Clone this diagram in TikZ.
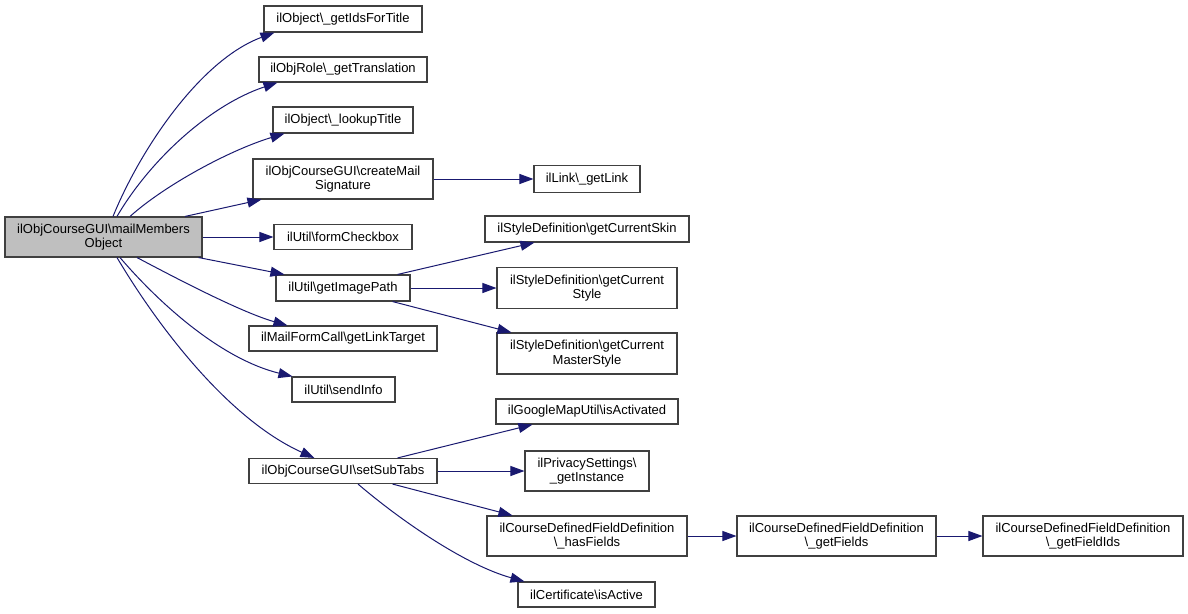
\documentclass[tikz,border=0pt]{standalone}
\usepackage{fontspec}
\setmainfont{Liberation Sans}
\usetikzlibrary{arrows.meta}
\definecolor{boxc}{HTML}{404040}
\definecolor{edgec}{HTML}{191970}
\definecolor{mainfill}{HTML}{BFBFBF}
\tikzset{
  box/.style={draw=boxc, line width=1.1pt, fill=white, inner sep=0pt, align=center,
    font=\fontsize{13}{14.5}\selectfont},
  callee/.style={draw=edgec, line width=1pt, -{Triangle[length=14pt,width=10pt]}}
}
\newcommand{\bs}{\textbackslash}
\begin{document}
\begin{tikzpicture}[x=1pt,y=-1pt]
\fill[white] (0,0) rectangle (1188,613);
\useasboundingbox (0,0) rectangle (1188,613);
% nodes
\node[box, fill=mainfill, minimum width=197pt, minimum height=40pt] (main) at (103.5,237) {ilObjCourseGUI\bs mailMembers\\Object};
\node[box, minimum width=158pt, minimum height=26pt] (ids) at (343,19) {ilObject\bs\_getIdsForTitle};
\node[box, minimum width=168pt, minimum height=25pt] (trans) at (343,69.5) {ilObjRole\bs\_getTranslation};
\node[box, minimum width=140pt, minimum height=26pt] (lookup) at (343,120) {ilObject\bs\_lookupTitle};
\node[box, minimum width=180pt, minimum height=40pt] (mail) at (343,179) {ilObjCourseGUI\bs createMail\\Signature};
\node[box, minimum width=138pt, minimum height=25pt] (check) at (343,237) {ilUtil\bs formCheckbox};
\node[box, minimum width=134pt, minimum height=26pt] (img) at (343,288) {ilUtil\bs getImagePath};
\node[box, minimum width=188pt, minimum height=25pt] (target) at (343,338.5) {ilMailFormCall\bs getLinkTarget};
\node[box, minimum width=103pt, minimum height=25pt] (info) at (343.5,389.5) {ilUtil\bs sendInfo};
\node[box, minimum width=188pt, minimum height=25pt] (tabs) at (343,471) {ilObjCourseGUI\bs setSubTabs};
\node[box, minimum width=106pt, minimum height=27pt] (link) at (587,179) {ilLink\bs\_getLink};
\node[box, minimum width=204pt, minimum height=26pt] (skin) at (587,229) {ilStyleDefinition\bs getCurrentSkin};
\node[box, minimum width=180pt, minimum height=41pt] (style) at (587,288) {ilStyleDefinition\bs getCurrent\\Style};
\node[box, minimum width=180pt, minimum height=41pt] (master) at (587,353.5) {ilStyleDefinition\bs getCurrent\\MasterStyle};
\node[box, minimum width=182pt, minimum height=25pt] (google) at (587,411.5) {ilGoogleMapUtil\bs isActivated};
\node[box, minimum width=124pt, minimum height=40pt] (privacy) at (587,471) {ilPrivacySettings\bs\\\_getInstance};
\node[box, minimum width=200pt, minimum height=40pt] (has) at (587,536) {ilCourseDefinedFieldDefinition\\\bs\_hasFields};
\node[box, minimum width=137pt, minimum height=25pt] (cert) at (586.5,594.5) {ilCertificate\bs isActive};
\node[box, minimum width=199pt, minimum height=40pt] (fields) at (836.5,536) {ilCourseDefinedFieldDefinition\\\bs\_getFields};
\node[box, minimum width=200pt, minimum height=40pt] (fieldids) at (1083,536) {ilCourseDefinedFieldDefinition\\\bs\_getFieldIds};
% edges from main
\draw[callee] ([xshift=9.5pt]main.north) .. controls (140,150) and (200,60) .. ([xshift=11pt]ids.south west);
\draw[callee] ([xshift=13.5pt]main.north) .. controls (150,160) and (210,105) .. ([xshift=19pt]trans.south west);
\draw[callee] ([xshift=26.5pt]main.north) .. controls (165,185) and (230,150) .. ([xshift=12pt]lookup.south west);
\draw[callee] ([xshift=81.5pt]main.north) -- ([xshift=9pt]mail.south west);
\draw[callee] (main.east) -- (check.west);
\draw[callee] ([xshift=-4pt]main.south east) -- ([xshift=9pt]img.north west);
\draw[callee] ([xshift=33.5pt]main.south) .. controls (170,275) and (240,312) .. ([xshift=39pt]target.north west);
\draw[callee] ([xshift=16.5pt]main.south) .. controls (165,310) and (225,360) .. ([xshift=1pt]info.north west);
\draw[callee] ([xshift=13.5pt]main.south) .. controls (160,330) and (230,420) .. ([xshift=66pt]tabs.north west);
% second level
\draw[callee] (mail.east) -- (link.west);
\draw[callee] ([xshift=-13pt]img.north east) -- ([xshift=50pt]skin.south west);
\draw[callee] (img.east) -- (style.west);
\draw[callee] ([xshift=-18pt]img.south east) -- ([xshift=15pt]master.north west);
\draw[callee] ([xshift=-40pt]tabs.north east) -- ([xshift=37pt]google.south west);
\draw[callee] (tabs.east) -- (privacy.west);
\draw[callee] ([xshift=-45pt]tabs.south east) -- ([xshift=26pt]has.north west);
\draw[callee] ([xshift=15pt]tabs.south) .. controls (400,520) and (465,565) .. ([xshift=7pt]cert.north west);
\draw[callee] (has.east) -- (fields.west);
\draw[callee] (fields.east) -- (fieldids.west);
\end{tikzpicture}
\end{document}
